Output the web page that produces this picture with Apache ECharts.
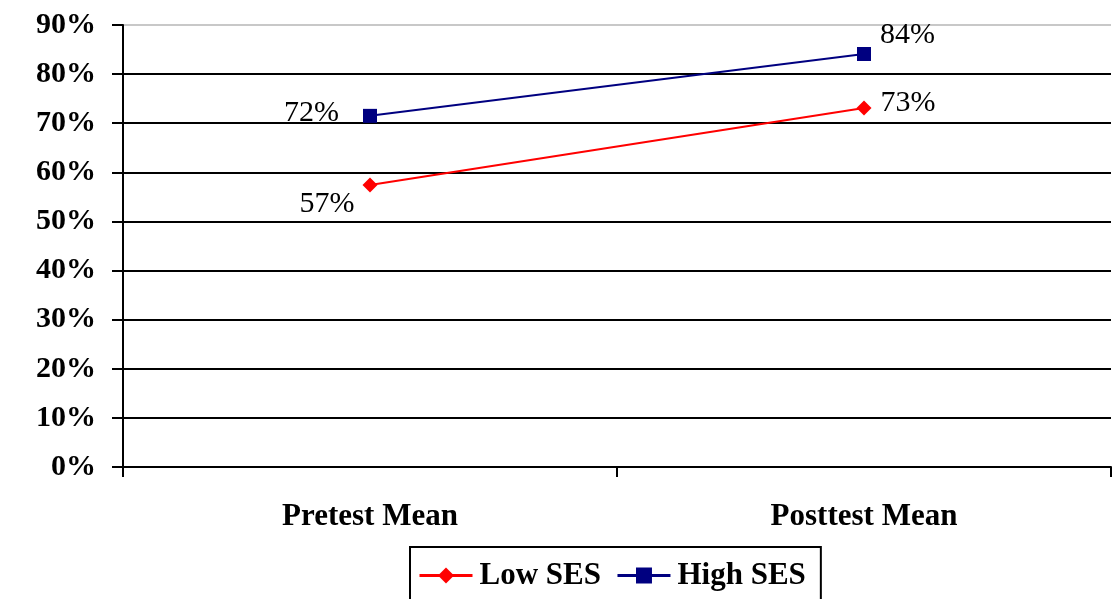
<!DOCTYPE html>
<html><head><meta charset="utf-8">
<script src="https://cdn.jsdelivr.net/npm/echarts@6/dist/echarts.min.js"></script>
<style>html,body{margin:0;padding:0;background:#fff}#c{width:1114px;height:599px}</style>
</head><body><div id="c"></div>
<script>
const categories = ['Pretest Mean', 'Posttest Mean'];
const lowSES = [57.4, 73.1];
const highSES = [71.5, 84.1];
const lowLabels = ['57%', '73%'];
const highLabels = ['72%', '84%'];
const yTicks = [0, 10, 20, 30, 40, 50, 60, 70, 80, 90];

const F = '"Liberation Serif", "Times New Roman", serif';
const lowLabelCfg = [
  {position: 'left', offset: [0, 19]},
  {position: 'right', offset: [1, -5]}
];
const highLabelCfg = [
  {position: 'left', offset: [-16, -3]},
  {position: 'right', offset: [1, -19]}
];
function mk(vals, labels, cfg) {
  return vals.map((v, i) => ({
    value: v,
    label: Object.assign({show: true, formatter: labels[i], fontFamily: F, fontSize: 30, color: '#000', distance: 8}, cfg[i])
  }));
}

const chart = echarts.init(document.getElementById('c'), null, {renderer: 'canvas'});
chart.setOption({
  animation: false,
  grid: {left: 123, right: 3, top: 25, bottom: 132, containLabel: false},
  legend: {
    top: 547, left: 410,
    data: ['Low SES', 'High SES'],
    itemWidth: 53, itemHeight: 20, itemGap: 15,
    padding: [13, 15, 30, 8],
    borderColor: '#000', borderWidth: 2,
    lineStyle: {width: 3},
    textStyle: {fontFamily: F, fontWeight: 'bold', fontSize: 31, color: '#000', padding: [0, 0, 0, 2]}
  },
  xAxis: {
    type: 'category', data: categories, boundaryGap: true,
    axisLine: {lineStyle: {color: '#000', width: 2}},
    axisTick: {show: true, length: 10, alignWithLabel: false, lineStyle: {color: '#000', width: 2}},
    axisLabel: {fontFamily: F, fontWeight: 'bold', fontSize: 31, color: '#000', margin: 34}
  },
  yAxis: {
    type: 'value', min: 0, max: 90, interval: 10,
    axisLine: {show: true, lineStyle: {color: '#000', width: 2}},
    axisTick: {show: true, length: 11, lineStyle: {color: '#000', width: 2}},
    axisLabel: {
      fontFamily: F, fontWeight: 'bold', fontSize: 30, color: '#000', margin: 27,
      formatter: v => yTicks.includes(v) ? v + '%' : ''
    },
    splitLine: {
      show: true,
      lineStyle: {color: ['#000','#000','#000','#000','#000','#000','#000','#000','#000','#c8c8c8'], width: 2}
    }
  },
  series: [
    {
      name: 'Low SES', type: 'line', data: mk(lowSES, lowLabels, lowLabelCfg),
      symbol: 'diamond', symbolSize: 15,
      lineStyle: {color: '#ff0000', width: 2},
      itemStyle: {color: '#ff0000'}
    },
    {
      name: 'High SES', type: 'line', data: mk(highSES, highLabels, highLabelCfg),
      symbol: 'rect', symbolSize: 14,
      lineStyle: {color: '#000080', width: 2},
      itemStyle: {color: '#000080'}
    }
  ]
});
</script></body></html>
